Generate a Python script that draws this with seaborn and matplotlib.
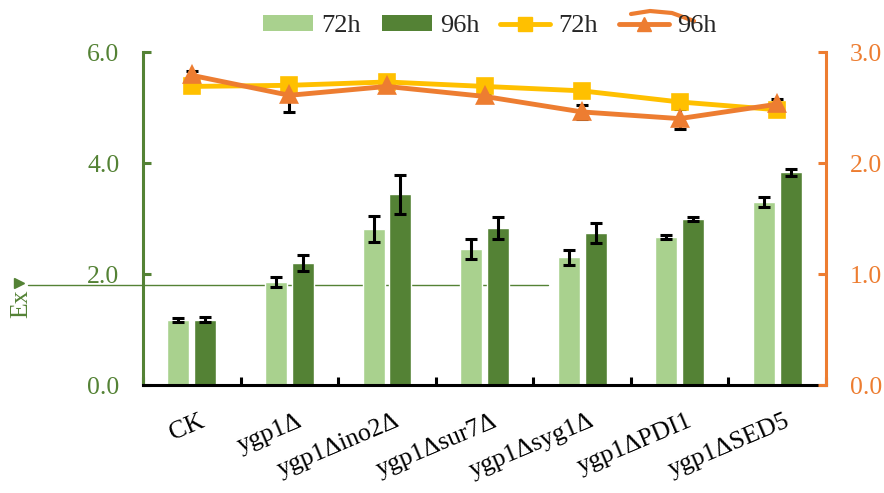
import matplotlib
matplotlib.use("Agg")
import matplotlib.pyplot as plt
import matplotlib.transforms as mtransforms
from matplotlib.patches import Patch
from matplotlib.lines import Line2D
import numpy as np
import pandas as pd
import seaborn as sns

# ---- data ----
strains = ["CK", "ygp1Δ", "ygp1Δino2Δ", "ygp1Δsur7Δ", "ygp1Δsyg1Δ", "ygp1ΔPDI1", "ygp1ΔSED5"]
times = ["72h", "96h"]

bar_72 = [1.17, 1.85, 2.81, 2.45, 2.30, 2.67, 3.30]
bar_72_err = [0.03, 0.09, 0.23, 0.18, 0.13, 0.03, 0.09]
bar_96 = [1.18, 2.20, 3.44, 2.83, 2.74, 2.99, 3.83]
bar_96_err = [0.04, 0.15, 0.35, 0.20, 0.18, 0.04, 0.06]

line_72 = [2.69, 2.70, 2.73, 2.69, 2.65, 2.55, 2.48]
line_72_err = [0.02, 0.06, 0.02, 0.02, 0.02, 0.02, 0.02]
line_96 = [2.79, 2.61, 2.69, 2.60, 2.46, 2.40, 2.53]
line_96_err = [0.04, 0.15, 0.02, 0.02, 0.06, 0.09, 0.05]

left_ticks = [0, 2, 4, 6]
right_ticks = [0, 1, 2, 3]

# ---- styling ----
light_green = "#A9D18E"
dark_green = "#548235"
gold = "#FFC000"
orange = "#ED7D31"
FS = 18.5
W, H = 884, 493

sns.set_theme(style="white")
plt.rcParams["font.family"] = ["Liberation Serif", "DejaVu Serif"]

fig = plt.figure(figsize=(W / 100, H / 100), dpi=100)
ax = fig.add_axes([0.1618, 0.219, 0.7726, 0.6755])

bars = pd.DataFrame({
    "strain": strains * 2,
    "time": [times[0]] * len(strains) + [times[1]] * len(strains),
    "value": bar_72 + bar_96,
})
sns.barplot(data=bars, x="strain", y="value", hue="time", order=strains,
            hue_order=times, palette=[light_green, dark_green], width=0.55,
            gap=0.18, errorbar=None, saturation=1, legend=False, ax=ax,
            zorder=2)

n = len(strains)
centers = [p.get_x() + p.get_width() / 2 for p in ax.patches]
x72, x96 = centers[:n], centers[n:2 * n]
err_kw = dict(fmt="none", ecolor="black", elinewidth=2.2, capsize=4.5,
              capthick=2.2, zorder=3)
ax.errorbar(x72, bar_72, yerr=bar_72_err, **err_kw)
ax.errorbar(x96, bar_96, yerr=bar_96_err, **err_kw)

ax.set_xlim(-0.5, n - 0.5)
ax.set_ylim(0, 6)
ax.set_xlabel("")
ax.set_ylabel("")

# secondary axis with the line series
ax2 = ax.twinx()
lines = pd.DataFrame({
    "strain": strains * 2,
    "time": [times[0]] * n + [times[1]] * n,
    "value": line_72 + line_96,
})
pos = np.arange(n)
ax2.errorbar(pos, line_72, yerr=line_72_err, **{**err_kw, "zorder": 1})
ax2.errorbar(pos, line_96, yerr=line_96_err, **{**err_kw, "zorder": 1})
sns.pointplot(data=lines, x="strain", y="value", hue="time", order=strains,
              hue_order=times, palette=[gold, orange], markers=["s", "^"],
              linestyles=["-", "-"], dodge=False, errorbar=None, legend=False,
              markersize=10, linewidth=3.5, ax=ax2)
ax2.set_ylim(0, 3)
ax2.set_xlim(-0.5, n - 0.5)
ax2.set_ylabel("")
ax2.set_xlabel("")

# spines
for a in (ax, ax2):
    a.spines["top"].set_visible(False)
ax.spines["left"].set_color(dark_green)
ax.spines["left"].set_linewidth(2.2)
ax.spines["bottom"].set_color("black")
ax.spines["bottom"].set_linewidth(2.2)
ax.spines["right"].set_visible(False)
ax2.spines["left"].set_visible(False)
ax2.spines["bottom"].set_visible(False)
ax2.spines["right"].set_color(orange)
ax2.spines["right"].set_linewidth(2.2)

# y ticks
ax.set_yticks(left_ticks)
ax.set_yticklabels([f"{v:.1f}" for v in left_ticks])
ax.tick_params(axis="y", direction="in", length=6, width=2.2, colors=dark_green,
               labelsize=FS, pad=17, left=True)
ax2.set_yticks(right_ticks)
ax2.set_yticklabels([f"{v:.1f}" for v in right_ticks])
ax2.tick_params(axis="y", direction="in", length=6, width=2.2, colors=orange,
                labelsize=FS, pad=17, right=True)

# x axis: tick marks at the group borders, rotated names under each group
ax.set_xticks(np.arange(-0.5, n, 1.0))
ax.set_xticklabels([])
ax.tick_params(axis="x", which="major", direction="in", length=6, width=2.2,
               color="black", bottom=True)
label_tf = mtransforms.blended_transform_factory(ax.transData, ax.transAxes) + \
    mtransforms.ScaledTranslation(7 / 100, -25 / 100, fig.dpi_scale_trans)
for i, name in enumerate(strains):
    ax.text(i, 0, name, transform=label_tf, rotation=23, ha="right", va="top",
            rotation_mode="anchor", fontsize=FS, color="black")

# left-side label, its leaf mark and the guide line
fig.text(21 / W, 1 - 318 / H, "Ex", rotation=90, color=dark_green,
         fontsize=FS, ha="center", va="bottom")
fig.add_artist(Line2D([19 / W], [1 - 283 / H], marker=">", markersize=7,
                      color=dark_green, linestyle="none"))
ax.plot([-0.168, 0.593], [1.80 / 6, 1.80 / 6], transform=ax.transAxes,
        color=dark_green, lw=1.0, clip_on=False, zorder=1)

# legend
handles = [
    Patch(facecolor=light_green, edgecolor="none"),
    Patch(facecolor=dark_green, edgecolor="none"),
    Line2D([], [], color=gold, marker="s", markersize=10, linewidth=3.5),
    Line2D([], [], color=orange, marker="^", markersize=10, linewidth=3.5),
]
fig.legend(handles, ["72h", "96h", "72h", "96h"], loc="center",
           bbox_to_anchor=(0.554, 0.947), ncol=4, frameon=False,
           fontsize=FS + 0.5, handlelength=1.9, handleheight=0.55,
           handletextpad=0.3, columnspacing=0.8)

# orange stroke across the last legend entry
sx = np.array([631, 650, 672, 694]) / W
sy = 1 - np.array([14, 11, 13, 21]) / H
fig.add_artist(Line2D(sx, sy, color=orange, lw=3, solid_capstyle="round"))

fig.savefig("out.png", dpi=100)
